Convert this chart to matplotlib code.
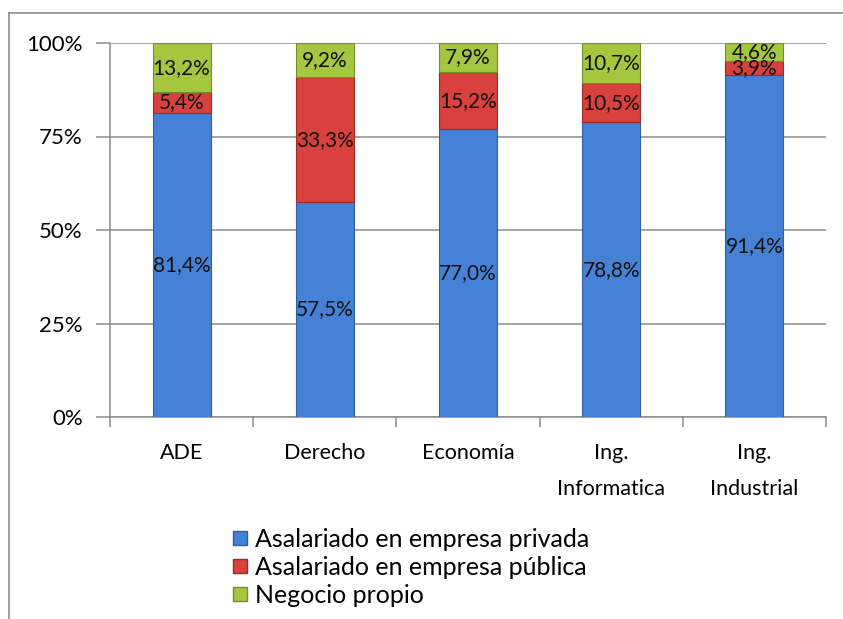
import numpy as np
import matplotlib.pyplot as plt
from matplotlib.lines import Line2D

plt.rcParams['font.family'] = ['Lato', 'DejaVu Sans']

carreras = ['ADE', 'Derecho', 'Economía', 'Ing.\nInformatica', 'Ing.\nIndustrial']
privada = [81.4, 57.5, 77.0, 78.8, 91.4]
publica = [5.4, 33.3, 15.2, 10.5, 3.9]
propio = [13.2, 9.2, 7.9, 10.7, 4.6]
series_names = ['Asalariado en empresa privada', 'Asalariado en empresa pública', 'Negocio propio']
colores = ['#4582D6', '#D8413D', '#A5C63F']
bordes = ['#2F5F9E', '#9C2B28', '#758F27']

fig = plt.figure(figsize=(8.43, 6.19), dpi=100)
W, H = 843, 619
ax = fig.add_axes([110 / W, 1 - 417 / H, (826 - 110) / W, (417 - 43) / H])

x = np.arange(len(carreras))
bottom = np.zeros(len(carreras))
handles = []
for vals, name, c, ec in zip([privada, publica, propio], series_names, colores, bordes):
    vals = np.array(vals) / 100
    ax.bar(x, vals, 0.405, bottom=bottom, color=c, edgecolor=ec, linewidth=0.8, zorder=3)
    for xi, b, v in zip(x, bottom, vals):
        txt = f'{v * 100:.1f}'.replace('.', ',') + '%'
        ax.text(xi, b + v / 2, txt, ha='center', va='center',
                fontsize=15, color='#111111', zorder=4)
    bottom = bottom + vals
    handles.append(Line2D([], [], marker='s', linestyle='none', markersize=10.5,
                          markerfacecolor=c, markeredgecolor=ec, label=name))

ax.set_xlim(-0.5, 4.5)
ax.set_ylim(0, 1)
ax.set_yticks([0, 0.25, 0.5, 0.75, 1.0])
ax.set_yticklabels(['0%', '25%', '50%', '75%', '100%'], fontsize=16)
ax.yaxis.grid(True, color='#8C8C8C', linewidth=1.1, zorder=0)
ax.set_xticks(np.arange(-0.5, 5, 1))
ax.set_xticklabels([])
ax.set_xticks(x, minor=True)
ax.set_xticklabels(carreras, minor=True, fontsize=15.5, linespacing=2.0)
ax.tick_params(axis='x', which='major', length=7, color='#8C8C8C', width=1.1)
ax.tick_params(axis='x', which='minor', length=0, pad=18.5)
ax.tick_params(axis='y', length=10, color='#8C8C8C', width=1.1, pad=9.5)
for s in ['top', 'right']:
    ax.spines[s].set_visible(False)
for s in ['left', 'bottom']:
    ax.spines[s].set_color('#8C8C8C')
    ax.spines[s].set_linewidth(1.1)

fig.legend(handles=handles, loc='upper left', bbox_to_anchor=(219 / W, 1 - 518 / H),
           frameon=False, fontsize=18, handletextpad=0.15, labelspacing=0.2,
           handlelength=0.9, borderaxespad=0)

# outer chart frame
fig.add_artist(Line2D([9 / W, 9 / W], [0, 1 - 13 / H], color='#8C8C8C', linewidth=1.2))
fig.add_artist(Line2D([9 / W, 1], [1 - 13 / H, 1 - 13 / H], color='#8C8C8C', linewidth=1.2))

fig.savefig('out.png', dpi=100)
